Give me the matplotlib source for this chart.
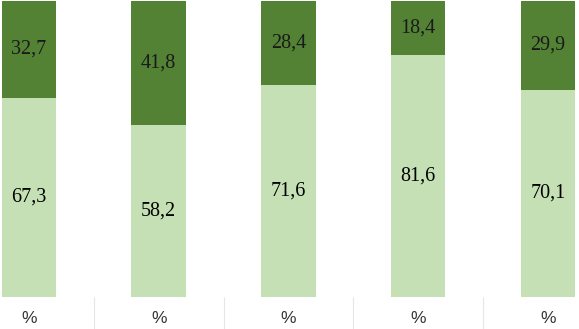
import matplotlib
matplotlib.use("Agg")
import matplotlib.pyplot as plt
import numpy as np

categories = ["%", "%", "%", "%", "%"]
bottom_vals = [67.3, 58.2, 71.6, 81.6, 70.1]
top_vals = [32.7, 41.8, 28.4, 18.4, 29.9]

light = "#C5E0B4"
dark = "#548235"

fig = plt.figure(figsize=(5.79, 3.29), dpi=100)
ax = fig.add_axes([0, 1 - 297 / 329, 1, 296 / 329])
x = np.arange(len(categories))
w = 0.42
ax.bar(x, bottom_vals, width=w, color=light, zorder=2)
ax.bar(x, top_vals, width=w, bottom=bottom_vals, color=dark, zorder=2)

def fmt(v):
    return f"{v:.1f}".replace(".", ",")

for xi, b, t in zip(x, bottom_vals, top_vals):
    ax.text(xi, b / 2, fmt(b), ha="center", va="center", fontsize=14.5,
            family="Liberation Serif", color="black")
    ax.text(xi, b + t / 2, fmt(t), ha="center", va="center", fontsize=14.5,
            family="Liberation Serif", color="#1a1a1a")

ax.set_xlim(-0.2235, 4.239)
ax.set_ylim(0, 100)
for s in ax.spines.values():
    s.set_visible(False)
ax.set_yticks([])
ax.set_xticks(x)
ax.set_xticklabels(categories, fontsize=12.5, family="Liberation Sans", color="#333333")
ax.tick_params(axis="x", which="major", length=0, pad=10)
ax.set_xticks(x[:-1] + 0.5, minor=True)
ax.tick_params(axis="x", which="minor", length=34, color="#e6e6e6", width=0.8)

fig.savefig("out.png", dpi=100)
